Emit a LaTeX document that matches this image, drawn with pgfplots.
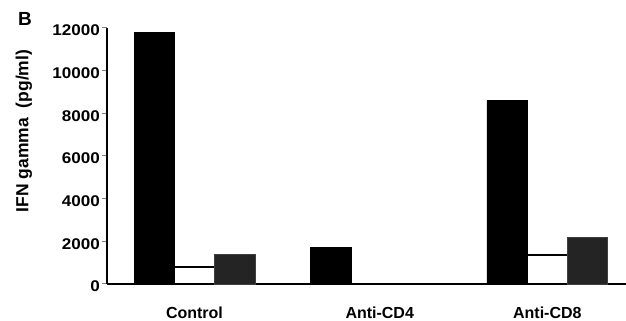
\documentclass[border=0pt]{standalone}
\usepackage{fontspec}
\setmainfont{Liberation Sans}
\newfontfamily\tickfont[FakeStretch=1.1]{Liberation Sans}
\usepackage{pgfplots}
\pgfplotsset{compat=1.18}
\begin{document}
\begin{tikzpicture}
\useasboundingbox (0,0) rectangle (626pt,321pt);
\begin{axis}[
  at={(107pt,37pt)}, anchor=south west,
  scale only axis, width=519pt, height=256pt,
  xmin=-0.496, xmax=2.446, ymin=0, ymax=12000,
  axis x line*=bottom, axis y line*=left,
  axis line style={line width=1.1pt},
  ytick={0,2000,4000,6000,8000,10000,12000},
  scaled y ticks=false,
  /pgf/number format/1000 sep={},
  /pgf/number format/assume math mode=true,
  tick align=outside, major tick length=5pt,
  ytick style={line width=1pt},
  yticklabel style={font=\tickfont\fontsize{15.5}{17}\selectfont\bfseries, inner sep=0pt, anchor=east, xshift=-2pt, yshift=-2.5pt},
  xtick={0,1.05,2},
  xticklabels={Control,Anti-CD4,Anti-CD8},
  xtick style={draw=none},
  xticklabel style={font=\fontsize{16}{18}\selectfont\bfseries, inner sep=0pt, anchor=north, yshift=-18pt},
  clip=false,
]
\addplot[ybar, bar width=0.228, bar shift=-0.228, fill=black, draw=black, line width=0.6pt] coordinates {(0,11800) (1,1700) (2,8600)};
\addplot[ybar, bar width=0.228, bar shift=0, fill=white, draw=black, line width=1.2pt] coordinates {(0,800) (2,1360)};
\addplot[ybar, bar width=0.228, bar shift=0.228, fill=black!86, draw=black!75, line width=0.6pt] coordinates {(0,1400) (2,2200)};
\end{axis}
\node[font=\fontsize{19}{21}\selectfont\bfseries, inner sep=0pt] at (25pt,302pt) {B};
\node[font=\fontsize{17.5}{19}\selectfont\bfseries, inner sep=0pt, rotate=90] at (24pt,190pt) {IFN gamma\ \ (pg/ml)};
\end{tikzpicture}
\end{document}
